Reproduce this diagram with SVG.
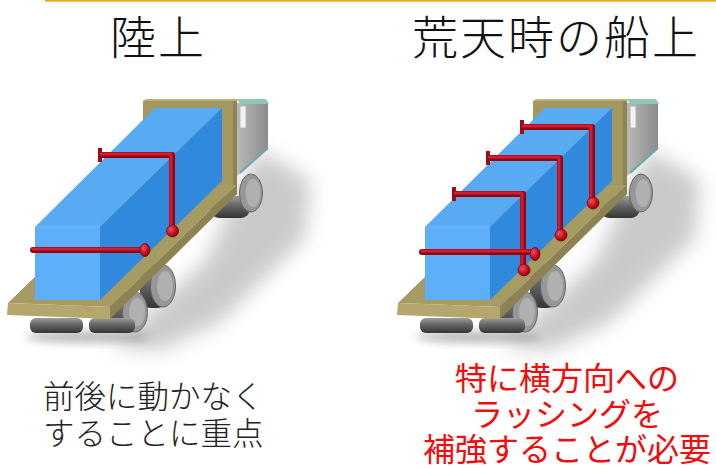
<svg xmlns="http://www.w3.org/2000/svg" xmlns:xlink="http://www.w3.org/1999/xlink" width="716" height="468" viewBox="0 0 716 468">
<style>
.title{font-family:"Noto Sans CJK JP","Noto Sans CJK SC",sans-serif;font-size:46px;font-weight:300;fill:#111;text-anchor:middle;letter-spacing:2px}
.body{font-family:"Noto Sans CJK JP","Noto Sans CJK SC",sans-serif;font-size:31.5px;font-weight:300;fill:#222}
.red{font-family:"Noto Sans CJK JP","Noto Sans CJK SC",sans-serif;font-size:32px;fill:#f20c0c;text-anchor:middle}
.sd{fill:none;stroke:#8e0714;stroke-width:6;stroke-linejoin:round;stroke-linecap:round}
.sl{fill:none;stroke:#d51b2f;stroke-width:3;stroke-linejoin:round;stroke-linecap:round}
.ball{fill:url(#ballg);stroke:#7d0410;stroke-width:0.8}
.tab{fill:#a00b19}
.tireface{fill:#979797;stroke:#666;stroke-width:1}
.hub{fill:#b0b0b0}
.tire{fill:url(#tireg)}
</style>
<defs>
<filter id="blur" x="-50%" y="-50%" width="200%" height="200%"><feGaussianBlur stdDeviation="10"/></filter>
<filter id="blur2" x="-50%" y="-50%" width="200%" height="200%"><feGaussianBlur stdDeviation="4"/></filter>
<radialGradient id="ballg" cx="0.35" cy="0.35" r="0.7"><stop offset="0" stop-color="#f0505c"/><stop offset="0.6" stop-color="#c5111f"/><stop offset="1" stop-color="#86040f"/></radialGradient>
<linearGradient id="tireg" x1="0" y1="0" x2="0" y2="1"><stop offset="0" stop-color="#9c9c9c"/><stop offset="0.4" stop-color="#6a6a6a"/><stop offset="1" stop-color="#343434"/></linearGradient>
<linearGradient id="cabg" x1="0" y1="0" x2="1" y2="0"><stop offset="0" stop-color="#b8b8b8"/><stop offset="1" stop-color="#8c8c8c"/></linearGradient>
<g id="truck">
  <polygon points="258,150 310,180 305,238 220,322 160,350 112,346 205,262" fill="#8a8a8a" opacity="0.45" filter="url(#blur)"/>
  <ellipse cx="88" cy="337" rx="62" ry="6" fill="#777" opacity="0.5" filter="url(#blur2)"/>
  <!-- back wheel -->
  <rect x="210" y="196" width="40" height="22" rx="9" class="tire"/>
  <ellipse cx="251" cy="193" rx="11.5" ry="19" class="tireface"/>
  <ellipse cx="253" cy="193" rx="7.5" ry="14" class="hub"/>
  <!-- cab -->
  <polygon points="237,103 268,103 268,148 237,176" fill="url(#cabg)"/>
  <polygon points="237,99 266,99 269,104 240,104" fill="#8fc6b6"/>
  <line x1="268" y1="148" x2="240" y2="173" stroke="#6ea7ad" stroke-width="2"/>
  <rect x="240" y="106" width="6" height="22" fill="#f2f2f2" stroke="#b0b0b0" stroke-width="0.8"/>
  <!-- middle and front wheels -->
  <rect x="140" y="264" width="28" height="44" rx="11" class="tire"/>
  <ellipse cx="163" cy="286" rx="12.5" ry="21" class="tireface"/>
  <ellipse cx="165" cy="286" rx="8" ry="15" class="hub"/>
  <rect x="110" y="292" width="28" height="40" rx="11" class="tire"/>
  <ellipse cx="135" cy="312" rx="12.5" ry="20" class="tireface"/>
  <ellipse cx="137" cy="312" rx="8" ry="14" class="hub"/>
  <rect x="30" y="318" width="53" height="15" rx="6" class="tire"/>
  <rect x="89" y="318" width="46" height="15" rx="6" class="tire"/>
  <!-- deck -->
  <polygon points="8,303 110,307 237,184 135,180" fill="#a69c63"/>
  <polygon points="8,303 110,307 110,319 7,315" fill="#b3a76d"/>
  <polygon points="110,307 237,184 237,194 110,319" fill="#8d8352"/>
  <!-- headboard -->
  <rect x="143" y="101" width="94" height="84" fill="#a39860"/>
  <polygon points="143,101 237,101 239,99 146,99" fill="#bcb17a"/>
  <rect x="233" y="101" width="4" height="84" fill="#8e8453"/>
  <!-- cargo box -->
  <polygon points="35,227 100,227 222,108 155,108" fill="#58aaf3"/>
  <rect x="35" y="227" width="65" height="73" fill="#5caff8"/>
  <polygon points="100,227 222,108 222,181 100,300" fill="#3089dd"/>
  <line x1="35" y1="227" x2="100" y2="227" stroke="#74bdfb" stroke-width="1"/>
</g>
</defs>
<rect x="0" y="0" width="716" height="468" fill="#ffffff"/>
<rect id="topline" x="45" y="0" width="671" height="1.6" fill="#f5a31a"/>
<g id="title-left"><text class="title" x="158" y="54">陸上</text></g>
<g id="title-right"><text class="title" x="556" y="54">荒天時の船上</text></g>
<g id="truck-land">
  <use xlink:href="#truck" href="#truck"/>
  <g id="straps-land">
    <rect class="tab" x="98" y="148" width="4" height="14"/>
    <path class="sd" d="M101,155 H172 V228"/>
    <path class="sl" d="M101,154 H171 V228"/>
    <circle class="ball" cx="172.5" cy="231" r="6"/>
    <path class="sd" d="M33,250 H143"/>
    <path class="sl" d="M33,249 H143"/>
    <ellipse class="ball" cx="145" cy="250" rx="5" ry="6.5"/>
  </g>
</g>
<g id="truck-ship">
  <use xlink:href="#truck" href="#truck" transform="translate(390,0)"/>
  <g id="straps-ship">
    <rect class="tab" x="520" y="120" width="4" height="14"/>
    <path class="sd" d="M523,127 H592 V200"/>
    <path class="sl" d="M523,126 H591 V200"/>
    <circle class="ball" cx="593" cy="203" r="6"/>
    <rect class="tab" x="486" y="151" width="4" height="14"/>
    <path class="sd" d="M489,158 H560 V232"/>
    <path class="sl" d="M489,157 H559 V232"/>
    <circle class="ball" cx="561" cy="235" r="6"/>
    <rect class="tab" x="452" y="187" width="4" height="14"/>
    <path class="sd" d="M455,194 H523 V266"/>
    <path class="sl" d="M455,193 H522 V266"/>
    <path class="sd" d="M422,252 H532"/>
    <path class="sl" d="M422,251 H532"/>
    <ellipse class="ball" cx="535" cy="254" rx="5" ry="6.5"/>
    <circle class="ball" cx="524" cy="270" r="6"/>
  </g>
</g>
<g id="caption-land">
  <text class="body" x="43" y="408">前後に動かなく</text>
  <text class="body" x="43" y="445">することに重点</text>
</g>
<g id="caption-ship">
  <text class="red" x="567" y="390">特に横方向への</text>
  <text class="red" x="567" y="426">ラッシングを</text>
  <text class="red" x="567" y="461">補強することが必要</text>
</g>
</svg>
